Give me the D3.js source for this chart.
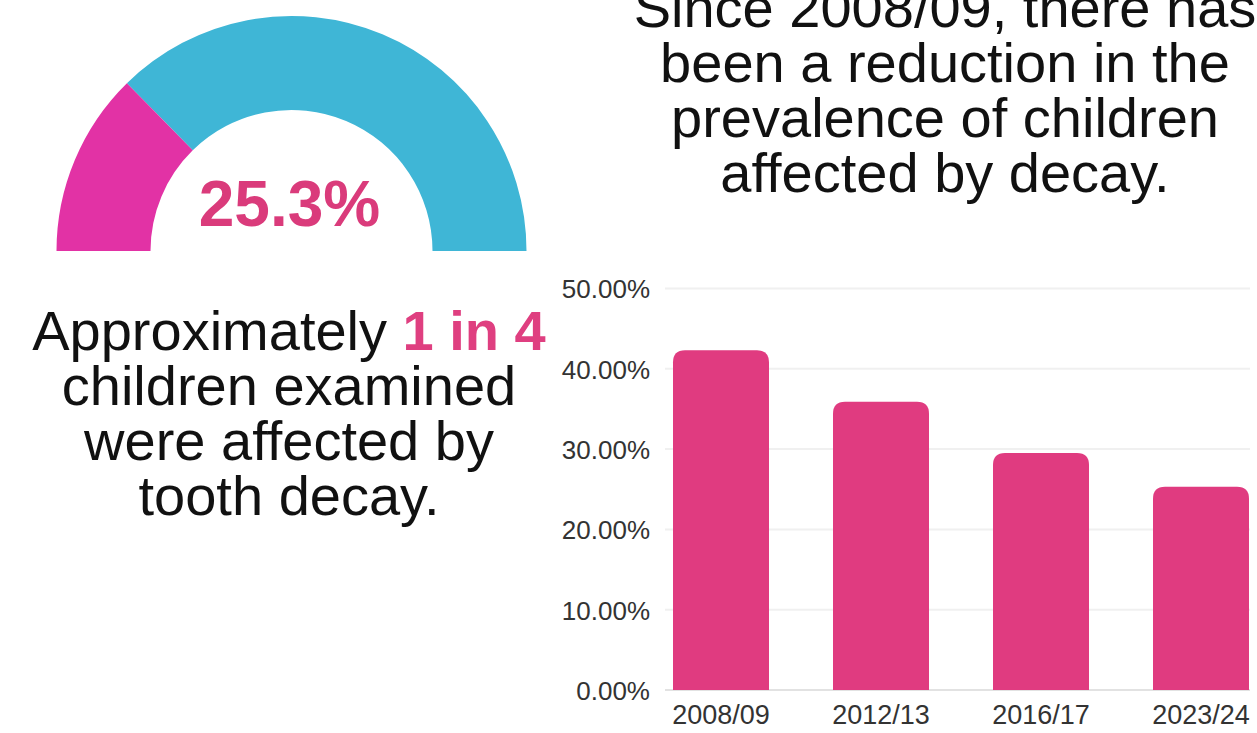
<!DOCTYPE html>
<html>
<head>
<meta charset="utf-8">
<script src="https://cdn.jsdelivr.net/npm/d3@7"></script>
<style>
  html, body { margin: 0; padding: 0; background: #fff; }
  svg { display: block; font-family: "Liberation Sans", Arial, Helvetica, sans-serif; }
</style>
</head>
<body>
<svg id="chart" width="1257" height="733"></svg>
<script>
// ---- data ----
const categories = ["2008/09", "2012/13", "2016/17", "2023/24"];
const values = [42.3, 35.9, 29.5, 25.3];
const yTicks = [0, 10, 20, 30, 40, 50];
const gaugeValue = 25.3;
const gaugeLabel = "25.3%";
const leftLines = [["Approximately ", "1 in 4"], ["children examined"], ["were affected by"], ["tooth decay."]];
const titleLines = ["Since 2008/09, there has", "been a reduction in the", "prevalence of children", "affected by decay."];

const svg = d3.select("#chart");

// ---- gauge ----
const gcx = 291.5, gcy = 251, R = 235, r = 141;
const gScale = d3.scaleLinear().domain([0, 100]).range([-Math.PI / 2, Math.PI / 2]);
const arc = d3.arc().innerRadius(r).outerRadius(R);
const gauge = svg.append("g").attr("transform", `translate(${gcx},${gcy})`);
gauge.append("path")
  .attr("d", arc({startAngle: gScale(gaugeValue), endAngle: gScale(100)}))
  .attr("fill", "#3fb6d6");
gauge.append("path")
  .attr("d", arc({startAngle: gScale(0), endAngle: gScale(gaugeValue)}))
  .attr("fill", "#e232a5");
gauge.append("text")
  .attr("x", -2).attr("y", -25)
  .attr("text-anchor", "middle")
  .attr("font-size", 64).attr("font-weight", "bold")
  .attr("fill", "#da3b7b")
  .text(gaugeLabel);

// ---- left text ----
const lt = svg.append("text")
  .attr("text-anchor", "middle")
  .attr("font-size", 56)
  .attr("fill", "#111");
leftLines.forEach((parts, i) => {
  const t = lt.append("tspan").attr("x", 289).attr("y", 350 + i * 55);
  t.text(parts[0]);
  if (parts[1]) {
    lt.append("tspan").attr("font-weight", "bold").attr("fill", "#df3f80").text(parts[1]);
  }
});

// ---- right title ----
const tt = svg.append("text")
  .attr("text-anchor", "middle")
  .attr("font-size", 56)
  .attr("fill", "#111");
titleLines.forEach((s, i) => {
  tt.append("tspan").attr("x", 945).attr("y", 27 + i * 55).text(s);
});

// ---- bar chart ----
const x = d3.scaleBand().domain(categories).range([665, 1257]).paddingInner(0.4).paddingOuter(0.05);
const y = d3.scaleLinear().domain([0, 50]).range([690, 288.5]);

const grid = svg.append("g");
grid.selectAll("line").data(yTicks).join("line")
  .attr("x1", 665).attr("x2", 1250)
  .attr("y1", d => y(d)).attr("y2", d => y(d))
  .attr("stroke", d => d === 0 ? "#e2e2e2" : "#f0f0f0")
  .attr("stroke-width", 2);

const yAxis = d3.axisLeft(y).tickValues(yTicks).tickFormat(d => d3.format(".2f")(d) + "%").tickSize(0).tickPadding(0);
const ya = svg.append("g").attr("transform", "translate(650,0)").call(yAxis);
ya.select(".domain").remove();
ya.selectAll("text").attr("font-size", 26).attr("fill", "#333").attr("font-family", '"Liberation Sans", Arial, sans-serif').attr("dy", "0.36em");

const rad = 12;
function barPath(d) {
  const x0 = x(d.c), w = x.bandwidth(), y0 = y(d.v), y1 = y(0);
  const rr = Math.min(rad, (y1 - y0));
  return `M${x0},${y1}V${y0 + rr}Q${x0},${y0} ${x0 + rr},${y0}H${x0 + w - rr}Q${x0 + w},${y0} ${x0 + w},${y0 + rr}V${y1}Z`;
}
svg.append("g").selectAll("path")
  .data(categories.map((c, i) => ({c, v: values[i]})))
  .join("path")
  .attr("d", barPath)
  .attr("fill", "#e03b80");

const xAxis = d3.axisBottom(x).tickSize(0).tickPadding(0);
const xa = svg.append("g").attr("transform", "translate(0,690)").call(xAxis);
xa.select(".domain").remove();
xa.selectAll("text").attr("font-size", 27).attr("fill", "#333").attr("font-family", '"Liberation Sans", Arial, sans-serif').attr("dy", "1.25em");
</script>
</body>
</html>
